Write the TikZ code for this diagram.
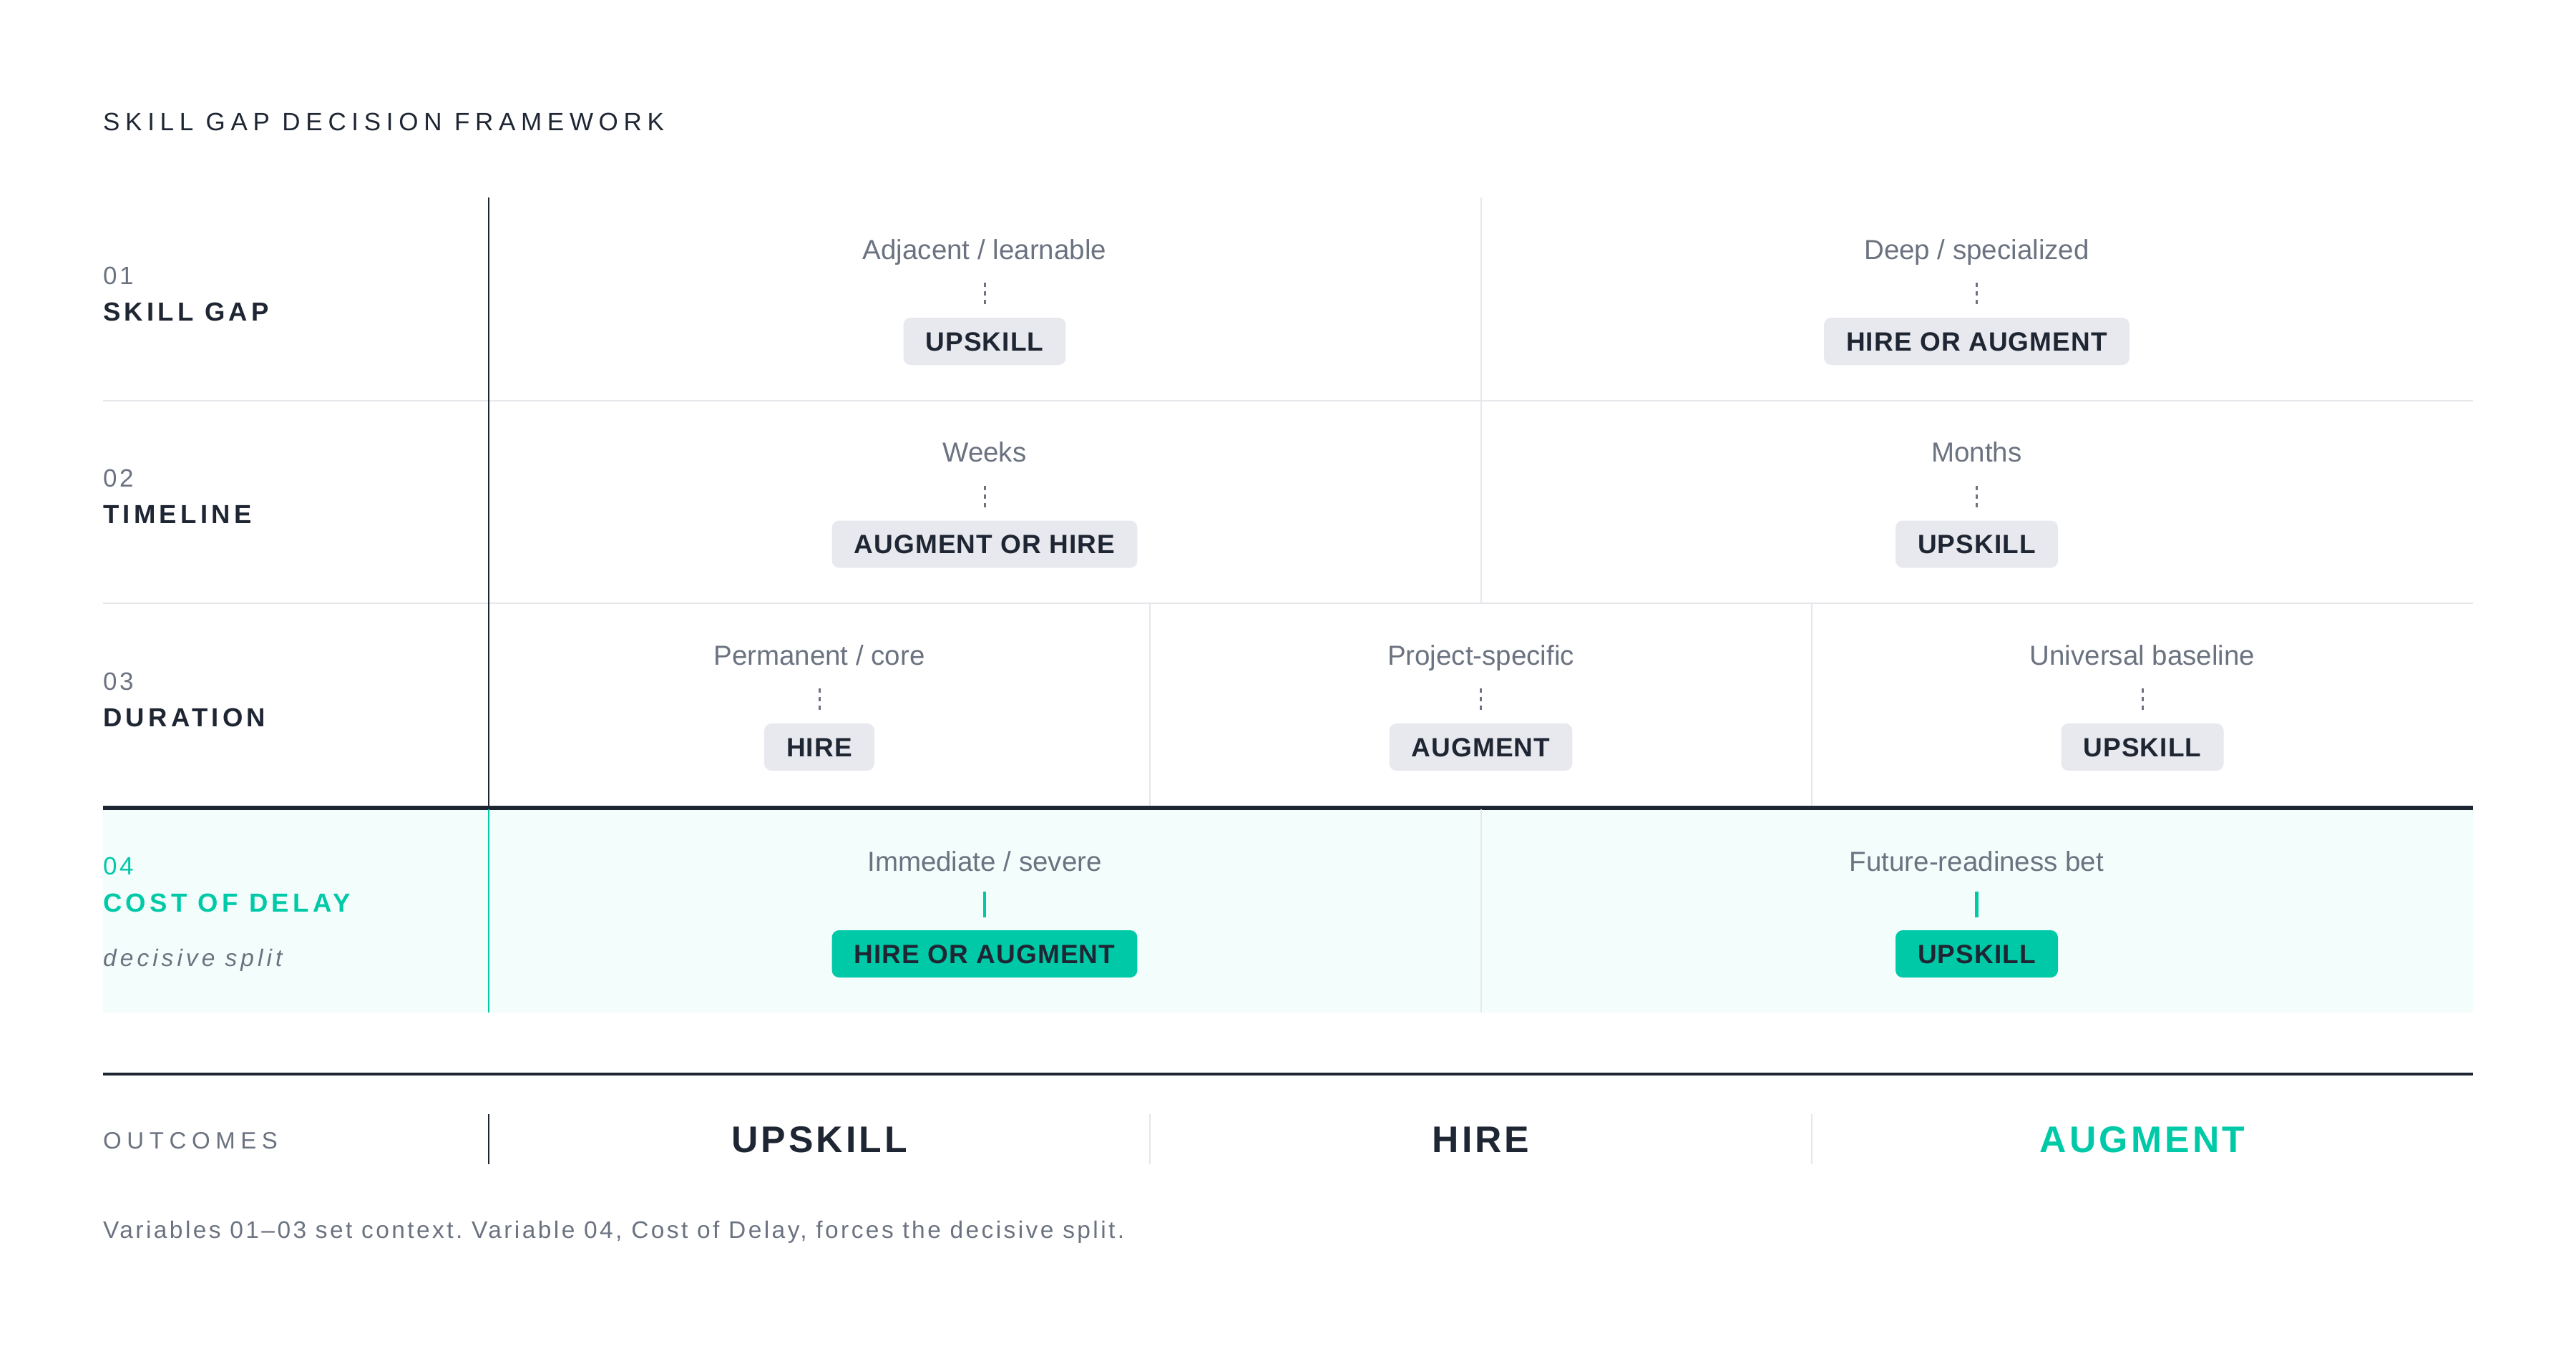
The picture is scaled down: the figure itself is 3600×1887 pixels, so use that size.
\documentclass[tikz,border=0pt]{standalone}
\usepackage{fontspec}
\setmainfont{Liberation Sans}
\frenchspacing
\definecolor{ink}{HTML}{1F2633}
\definecolor{muted}{HTML}{6B7280}
\definecolor{chip}{HTML}{E8E9EE}
\definecolor{accent}{HTML}{00C9A7}
\definecolor{accentbg}{HTML}{F3FEFC}
\definecolor{rulegray}{HTML}{E5E7EB}
\tikzset{
  celltext/.style={font={\fontsize{38.5}{46}\selectfont}, text=muted, anchor=base, inner sep=0pt},
  chipbox/.style={fill=chip, rounded corners=10pt, minimum height=66pt, inner xsep=31pt, inner ysep=0pt,
    text height=26.6pt, text depth=0pt, font={\fontsize{37}{44}\selectfont\bfseries\addfontfeature{LetterSpace=3}}, text=ink, anchor=center},
  chipteal/.style={chipbox, fill=accent},
  dashline/.style={draw=muted, line width=3pt, dash pattern=on 6pt off 6pt},
  tealline/.style={draw=accent, line width=4.5pt},
  lightrule/.style={draw=rulegray, line width=2pt},
  darkrule/.style={draw=ink, line width=2.5pt},
  labnum/.style={font={\fontsize{35}{42}\selectfont\addfontfeature{LetterSpace=10}}, text=muted, anchor=base west, inner sep=0pt},
  labname/.style={font={\fontsize{36.5}{44}\selectfont\bfseries\addfontfeature{LetterSpace=14.5}}, text=ink, anchor=base west, inner sep=0pt},
  titletext/.style={font={\fontsize{35}{42}\selectfont\addfontfeature{LetterSpace=22}}, text=ink, anchor=base west, inner sep=0pt},
  outlabel/.style={font={\fontsize{33}{40}\selectfont\addfontfeature{LetterSpace=23}}, text=muted, anchor=base west, inner sep=0pt},
  outword/.style={font={\fontsize{51.7}{60}\selectfont\bfseries\addfontfeature{LetterSpace=8}}, text=ink, anchor=base, inner sep=0pt},
  notetext/.style={font={\fontsize{33.5}{40}\selectfont\itshape\addfontfeature{LetterSpace=15}}, text=muted, anchor=base west, inner sep=0pt},
  foottext/.style={font={\fontsize{33.5}{40}\selectfont\addfontfeature{LetterSpace=10.2}}, text=muted, anchor=base west, inner sep=0pt},
}
\newcommand{\dcell}[5]{%
  \node[celltext] (#1t) at ({#2},{#3+86}) {#4};
  \coordinate (#1a) at ({#2},{#3+119});
  \coordinate (#1b) at ({#2},{#3+149});
  \draw[dashline] (#1a) -- (#1b);
  \node[chipbox] (#1c) at ({#2},{#3+201}) {#5};
}
\begin{document}
\begin{tikzpicture}[x=1pt,y=-1pt]
\useasboundingbox (0,0) rectangle (3600,1887);
\fill[white] (0,0) rectangle (3600,1887);

% title
\node[titletext] (title) at (144,182) {SKILL GAP DECISION FRAMEWORK};

% row 4 background
\fill[accentbg] (144,1131) rectangle (3456,1415);

% horizontal rules
\draw[lightrule] (144,559.5) -- (3456,559.5);
\draw[lightrule] (144,843) -- (3456,843);
\draw[draw=ink, line width=6pt] (144,1128.5) -- (3456,1128.5);

% vertical rules
\draw[darkrule] (683,276) -- (683,1126);
\draw[draw=accent, line width=2.5pt] (683,1131) -- (683,1415);
\draw[lightrule] (2069.5,276) -- (2069.5,843);
\draw[lightrule] (2069.5,1131) -- (2069.5,1415);
\draw[lightrule] (1607,843) -- (1607,1126);
\draw[lightrule] (2532,843) -- (2532,1126);

% row labels
\node[labnum] (n1) at (144,397) {01};
\node[labname] (l1) at (144,448) {SKILL GAP};
\node[labnum] (n2) at (144,680.5) {02};
\node[labname] (l2) at (144,731.5) {TIMELINE};
\node[labnum] (n3) at (144,964) {03};
\node[labname] (l3) at (144,1015) {DURATION};
\node[labnum, text=accent] (n4) at (144,1222) {04};
\node[labname, text=accent] (l4) at (144,1274) {COST OF DELAY};
\node[notetext] (note4) at (144,1350) {decisive split};

% row 1
\dcell{ra}{1376}{276}{Adjacent / learnable}{UPSKILL}
\dcell{rb}{2762.5}{276}{Deep / specialized}{HIRE OR AUGMENT}
% row 2
\dcell{sa}{1376}{559.5}{Weeks}{AUGMENT OR HIRE}
\dcell{sb}{2762.5}{559.5}{Months}{UPSKILL}
% row 3
\dcell{ta}{1145}{843}{Permanent / core}{HIRE}
\dcell{tb}{2069.5}{843}{Project-specific}{AUGMENT}
\dcell{tc}{2994}{843}{Universal baseline}{UPSKILL}

% row 4
\node[celltext] (uat) at (1376,1217) {Immediate / severe};
\coordinate (uaa) at (1376,1246);
\coordinate (uab) at (1376,1282);
\draw[tealline] (uaa) -- (uab);
\node[chipteal] (uac) at (1376,1333) {HIRE OR AUGMENT};
\node[celltext] (ubt) at (2762.5,1217) {Future-readiness bet};
\coordinate (uba) at (2762.5,1246);
\coordinate (ubb) at (2762.5,1282);
\draw[tealline] (uba) -- (ubb);
\node[chipteal] (ubc) at (2762.5,1333) {UPSKILL};

% outcomes
\draw[draw=ink, line width=4pt] (144,1501) -- (3456,1501);
\node[outlabel] (outl) at (144,1605) {OUTCOMES};
\draw[darkrule] (683,1557) -- (683,1627);
\draw[lightrule] (1607,1557) -- (1607,1627);
\draw[lightrule] (2532,1557) -- (2532,1627);
\node[outword] (o1) at (1145,1610) {UPSKILL};
\node[outword] (o2) at (2069.5,1610) {HIRE};
\node[outword, text=accent] (o3) at (2994,1610) {AUGMENT};

% footer
\node[foottext] (foot) at (144,1730) {Variables 01–03 set context. Variable 04, Cost of Delay, forces the decisive split.};
\end{tikzpicture}
\end{document}
